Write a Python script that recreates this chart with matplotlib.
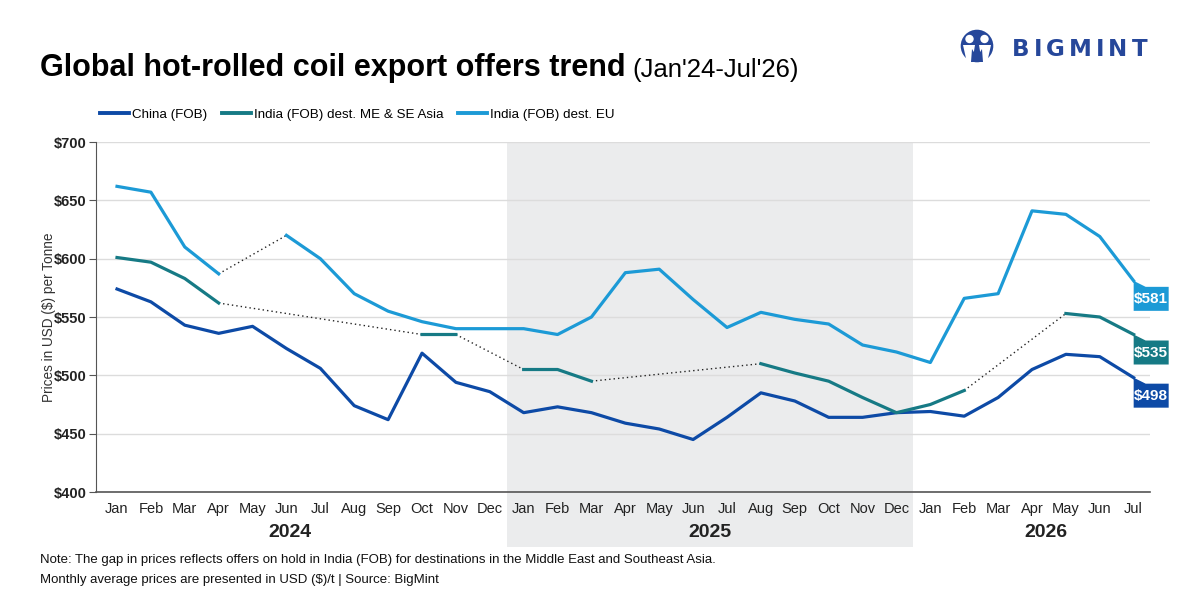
import numpy as np
import matplotlib.pyplot as plt
import matplotlib.transforms as mtransforms
from matplotlib.patches import Polygon, Rectangle, Circle
from matplotlib.lines import Line2D
from matplotlib import font_manager

names = {f.name for f in font_manager.fontManager.ttflist}
base_font = 'Liberation Sans Narrow' if 'Liberation Sans Narrow' in names else 'Liberation Sans'
plt.rcParams['font.family'] = [base_font, 'DejaVu Sans']

nan = np.nan
months = ['Jan', 'Feb', 'Mar', 'Apr', 'May', 'Jun', 'Jul', 'Aug', 'Sep', 'Oct', 'Nov', 'Dec'] * 2 + \
         ['Jan', 'Feb', 'Mar', 'Apr', 'May', 'Jun', 'Jul']
years = ['2024', '2025', '2026']
year_pos = [5.1, 17.5, 27.4]

china = [574, 563, 543, 536, 542, 523, 506, 474, 462, 519, 494, 486,
         468, 473, 468, 459, 454, 445, 464, 485, 478, 464, 464, 468,
         469, 465, 481, 505, 518, 516, 498]
india_me = [601, 597, 583, 562, nan, nan, nan, nan, nan, 535, 535, nan,
            505, 505, 495, nan, nan, nan, nan, 510, 502, 495, 481, 468,
            475, 487, nan, nan, 553, 550, 535]
india_eu = [662, 657, 610, 587, nan, 620, 600, 570, 555, 546, 540, 540,
            540, 535, 550, 588, 591, 565, 541, 554, 548, 544, 526, 520,
            511, 566, 570, 641, 638, 619, 581]

series = [
    ('China (FOB)', china, '#0d4aa6'),
    ('India (FOB) dest. ME & SE Asia', india_me, '#167a85'),
    ('India (FOB) dest. EU', india_eu, '#1c9ad6'),
]

fig = plt.figure(figsize=(12, 6), dpi=100)
ax = fig.add_axes([0.08, 0.18, 0.878, 0.5833])
x = np.arange(len(months))

# shaded 2025 band, runs down behind the year label
ax.add_patch(Rectangle((11.5, -0.157), 12, 1.157, transform=ax.get_xaxis_transform(),
                       facecolor='#ebeced', edgecolor='none', clip_on=False, zorder=0))

for label, vals, col in series:
    v = np.array(vals, dtype=float)
    ax.plot(x, v, color=col, lw=2.3, zorder=3, solid_joinstyle='round')
    ok = np.where(~np.isnan(v))[0]
    for a, b in zip(ok[:-1], ok[1:]):
        if b - a > 1:
            ax.plot([a, b], [v[a], v[b]], color='#222222', lw=1, ls=(0, (1.0, 2.2)), zorder=2)

# end labels
for label, vals, col in series:
    xe, ye = x[-1], vals[-1]
    tr = fig.dpi_scale_trans + mtransforms.ScaledTranslation(xe, ye, ax.transData)
    flag = Polygon([(0, 0), (0.12, -0.06), (0.35, -0.06), (0.35, -0.30), (0, -0.30)],
                   closed=True, transform=tr, facecolor=col, edgecolor='none',
                   clip_on=False, zorder=5)
    ax.add_patch(flag)
    ax.text(0.175, -0.185, f'${ye:.0f}', transform=tr, color='white', fontsize=11,
            fontweight='bold', ha='center', va='center', zorder=6)

ax.set_xlim(-0.62, 30.47)
ax.set_ylim(400, 700)
ax.set_yticks([400, 450, 500, 550, 600, 650, 700])
ax.set_yticklabels([f'${t}' for t in [400, 450, 500, 550, 600, 650, 700]],
                   fontweight='bold', fontsize=10.5, color='#222222')
ax.set_xticks(x)
ax.set_xticklabels(months, fontsize=10.5, color='#222222')
ax.tick_params(axis='x', length=0, pad=7)
ax.tick_params(axis='y', length=5, color='#555555', pad=2)
ax.grid(axis='y', color='#dcdcdc', lw=1)
ax.set_axisbelow(True)
for s in ['top', 'right']:
    ax.spines[s].set_visible(False)
ax.spines['left'].set_color('#555555')
ax.spines['bottom'].set_color('#555555')
ax.spines['bottom'].set_linewidth(1.2)
ax.set_ylabel('Prices in USD ($) per Tonne', fontsize=9.8, color='#333333', labelpad=-2)

for yr, xp in zip(years, year_pos):
    ax.text(xp, -0.115, yr, transform=ax.get_xaxis_transform(), ha='center', va='center',
            fontsize=14, fontweight='bold', color='#222222')

# title
t1 = fig.text(0.033, 0.886, 'Global hot-rolled coil export offers trend', fontsize=22,
              fontweight='bold', color='black', va='center')
fig.canvas.draw()
bb = t1.get_window_extent()
fig.text(bb.x1 / 1200 + 0.006, 0.884, "(Jan'24-Jul'26)", fontsize=18.5, color='black', va='center')

handles = [Line2D([0], [0], color=c, lw=2.8) for _, _, c in series]
fig.legend(handles, [s[0] for s in series], loc='center left', bbox_to_anchor=(0.073, 0.809),
           ncol=3, frameon=False, fontsize=9.6, handlelength=2.2, handletextpad=0.2,
           columnspacing=1.1)

# notes
fig.text(0.033, 0.066, 'Note: The gap in prices reflects offers on hold in India (FOB) for destinations '
         'in the Middle East and Southeast Asia.', fontsize=9.5, color='#111111', va='center')
fig.text(0.033, 0.034, 'Monthly average prices are presented in USD ($)/t | Source: BigMint',
         fontsize=9.5, color='#111111', va='center')

# logo, drawn in inches from the bottom left
logo = '#26479a'
def px(xp, yp):
    return (xp / 100, (600 - yp) / 100)

inch = fig.dpi_scale_trans
fig.patches.append(Circle(px(977, 46), 0.163, transform=inch, facecolor=logo,
                          edgecolor='none', figure=fig))
for hx in (969.5, 984.5):
    fig.patches.append(Circle(px(hx, 39), 0.042, transform=inch, facecolor='white',
                              edgecolor='none', figure=fig))
fig.patches.append(Polygon([px(963, 45), px(975, 45), px(972, 63), px(967, 63)], closed=True,
                           transform=inch, facecolor='white', edgecolor='none', figure=fig))
fig.patches.append(Polygon([px(979, 45), px(991, 45), px(987, 63), px(982, 63)], closed=True,
                           transform=inch, facecolor='white', edgecolor='none', figure=fig))
fig.patches.append(Polygon([px(972, 49), px(977, 57), px(982, 49), px(983, 62), px(971, 62)],
                           closed=True, transform=inch, facecolor=logo, edgecolor='none', figure=fig))

xcur = 1012
renderer = fig.canvas.get_renderer()
for ch in 'BIGMINT':
    t = fig.text(xcur / 1200, 1 - 49 / 600, ch, fontsize=16.5, fontweight='bold', color=logo,
                 va='center', family=['DejaVu Sans'])
    xcur += t.get_window_extent(renderer).width + 4

fig.savefig('out.png', dpi=100)
